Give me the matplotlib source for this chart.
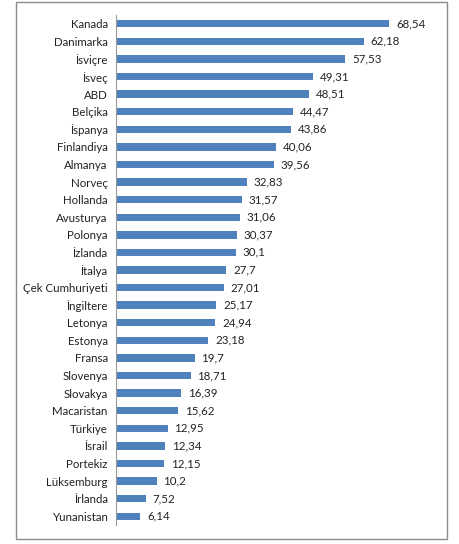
import matplotlib.pyplot as plt
from matplotlib.patches import Rectangle

countries = ["Kanada", "Danimarka", "İsviçre", "İsveç", "ABD", "Belçika", "İspanya",
             "Finlandiya", "Almanya", "Norveç", "Hollanda", "Avusturya", "Polonya",
             "İzlanda", "İtalya", "Çek Cumhuriyeti", "İngiltere", "Letonya", "Estonya",
             "Fransa", "Slovenya", "Slovakya", "Macaristan", "Türkiye", "İsrail",
             "Portekiz", "Lüksemburg", "İrlanda", "Yunanistan"]
values = [68.54, 62.18, 57.53, 49.31, 48.51, 44.47, 43.86, 40.06, 39.56, 32.83,
          31.57, 31.06, 30.37, 30.1, 27.7, 27.01, 25.17, 24.94, 23.18, 19.7,
          18.71, 16.39, 15.62, 12.95, 12.34, 12.15, 10.2, 7.52, 6.14]
value_labels = ["68,54", "62,18", "57,53", "49,31", "48,51", "44,47", "43,86",
                "40,06", "39,56", "32,83", "31,57", "31,06", "30,37", "30,1", "27,7",
                "27,01", "25,17", "24,94", "23,18", "19,7", "18,71", "16,39", "15,62",
                "12,95", "12,34", "12,15", "10,2", "7,52", "6,14"]

plt.rcParams['font.family'] = ['Lato', 'DejaVu Sans']

fig = plt.figure(figsize=(4.6, 5.44), dpi=100)
ax = fig.add_axes([116 / 460, 1 - 525 / 544, (435 - 116) / 460, (525 - 15) / 544])

pos = list(range(len(countries)))
ax.barh(pos, values, height=0.42, color="#4F81BD")
for p, v, lab in zip(pos, values, value_labels):
    ax.text(v + 1.7, p, lab, va="center", ha="left", fontsize=8.3, color="#222222")

ax.set_yticks(pos)
ax.set_yticklabels(countries, fontsize=8.3, color="#222222")
ax.set_ylim(len(countries) - 0.5, -0.5)
ax.set_xlim(0, 80)
ax.set_xticks([])
ax.tick_params(axis="y", length=0, pad=6)
for s in ["top", "right", "bottom"]:
    ax.spines[s].set_visible(False)
ax.spines["left"].set_color("#999999")
ax.spines["left"].set_linewidth(0.8)

# outer frame of the chart area
fig.patches.append(Rectangle((16 / 460, 1 - 539 / 544), (447 - 16) / 460, (539 - 2) / 544,
                             transform=fig.transFigure, fill=False,
                             edgecolor="#8C8C8C", linewidth=1.0))

fig.savefig("out.png", dpi=100)
